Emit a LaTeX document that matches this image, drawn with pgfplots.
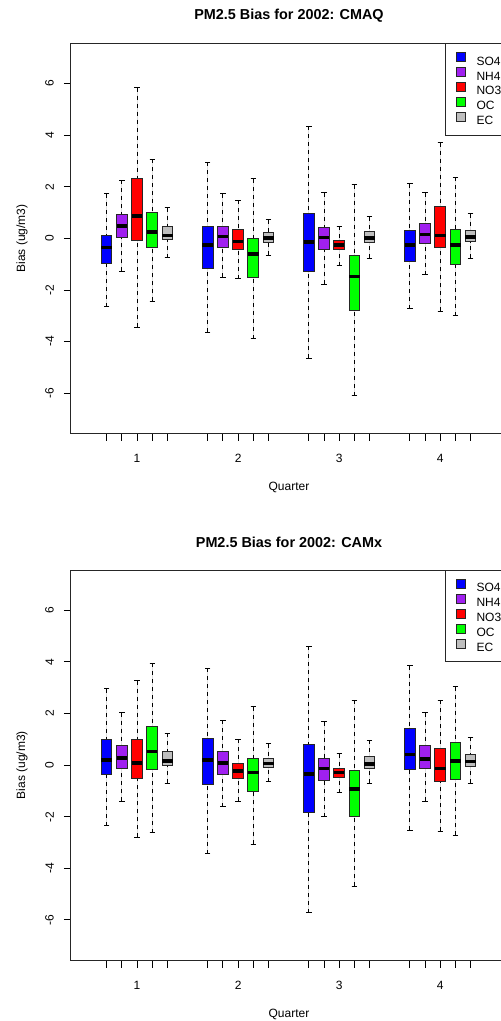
\documentclass[border=0pt]{standalone}
\usepackage{fontspec}
\setmainfont{Liberation Sans}
\usepackage{pgfplots}
\pgfplotsset{compat=1.18}
\usepgfplotslibrary{statistics}

\definecolor{rpurple}{HTML}{A020F0}
\definecolor{rgreen}{HTML}{00FF00}
\definecolor{rgray}{HTML}{BEBEBE}

% one box: colour, position, lower whisker, lower quartile, median, upper quartile, upper whisker
\newcommand{\bx}[7]{%
  \addplot[forget plot, fill=#1,
    boxplot/every box/.style={draw=black!85, line width=0.75pt, fill=#1},
    boxplot prepared={draw position=#2, lower whisker=#3, lower quartile=#4,
      median=#5, upper quartile=#6, upper whisker=#7}] coordinates {};}

\pgfplotsset{
  biasaxis/.style={
    scale only axis, width=327pt, height=292.8pt,
    anchor=north west,
    xmin=0.347, xmax=4.66, ymin=-7.57, ymax=7.56,
    xtick={0.7,0.85,1,1.15,1.3,1.7,1.85,2,2.15,2.3,2.7,2.85,3,3.15,3.3,3.7,3.85,4,4.15,4.3},
    xticklabels={,,1,,,,,2,,,,,3,,,,,4,,},
    ytick={-6,-4,...,6},
    xtick pos=left, ytick pos=left,
    tick align=outside, major tick length=5.4pt,
    tick style={black, line width=0.75pt},
    axis line style={black!85, line width=0.75pt},
    /pgf/number format/assume math mode=true,
    tick label style={font=\fontsize{9}{10}\selectfont},
    yticklabel style={rotate=90, anchor=south},
    yticklabel shift=4pt,
    xticklabel shift=6.5pt,
    label style={font=\fontsize{9}{10}\selectfont},
    xlabel={Quarter}, ylabel={Bias (ug/m3)},
    xlabel style={at={(axis description cs:0.5,-0.1383)}, anchor=center},
    ylabel style={at={(axis description cs:-0.1124,0.5)}, anchor=center},
    title style={at={(axis description cs:0.5,1.0515)}, anchor=center,
      font=\bfseries\fontsize{10.8}{13}\selectfont},
    legend cell align=left,
    legend image code/.code={\draw[##1] (0pt,-0.2pt) rectangle (6.75pt,6.55pt);},
    legend style={at={(axis description cs:0.8578,1)}, anchor=north west,
      draw=black!85, line width=0.75pt, inner xsep=7.5pt, inner ysep=6.3pt,
      row sep=0pt, font=\fontsize{9}{10}\selectfont,
      nodes={inner sep=0pt, text height=7pt, text depth=1.5pt},
      /tikz/every odd column/.append style={column sep=8.25pt}},
    boxplot/draw direction=y,
    boxplot/box extend=0.105,
    boxplot/whisker extend=0.0525,
    boxplot/every median/.style={draw=black, line width=2.6pt},
    boxplot/draw/lower whisker/.code={%
      \draw[black, line width=0.75pt, dash pattern=on 3pt off 3pt]
        (boxplot cs:\pgfplotsboxplotvalue{lower whisker}) --
        (boxplot cs:\pgfplotsboxplotvalue{lower quartile});
      \draw[black, line width=0.75pt]
        (boxplot whisker cs:\pgfplotsboxplotvalue{lower whisker},0) --
        (boxplot whisker cs:\pgfplotsboxplotvalue{lower whisker},1);},
    boxplot/draw/upper whisker/.code={%
      \draw[black, line width=0.75pt, dash pattern=on 3pt off 3pt]
        (boxplot cs:\pgfplotsboxplotvalue{upper whisker}) --
        (boxplot cs:\pgfplotsboxplotvalue{upper quartile});
      \draw[black, line width=0.75pt]
        (boxplot whisker cs:\pgfplotsboxplotvalue{upper whisker},0) --
        (boxplot whisker cs:\pgfplotsboxplotvalue{upper whisker},1);},
  }
}

\begin{document}
\begin{tikzpicture}

% ---------------- CMAQ ----------------
\begin{axis}[biasaxis, at={(53.25pt,-32.5pt)}, title={PM2.5 Bias for 2002: CMAQ}]
\bx{blue}{0.70}{-2.64}{-0.97}{-0.36}{0.12}{1.73}
\bx{rpurple}{0.85}{-1.28}{0.03}{0.48}{0.92}{2.25}
\bx{red}{1.00}{-3.44}{-0.09}{0.86}{2.31}{5.84}
\bx{rgreen}{1.15}{-2.44}{-0.36}{0.25}{1.00}{3.07}
\bx{rgray}{1.30}{-0.75}{-0.05}{0.12}{0.48}{1.19}
\bx{blue}{1.70}{-3.63}{-1.15}{-0.25}{0.48}{2.96}
\bx{rpurple}{1.85}{-1.51}{-0.34}{0.08}{0.48}{1.73}
\bx{red}{2.00}{-1.56}{-0.44}{-0.12}{0.35}{1.47}
\bx{rgreen}{2.15}{-3.89}{-1.52}{-0.61}{-0.01}{2.31}
\bx{rgray}{2.30}{-0.65}{-0.17}{0.01}{0.21}{0.72}
\bx{blue}{2.70}{-4.64}{-1.28}{-0.13}{0.96}{4.34}
\bx{rpurple}{2.85}{-1.77}{-0.44}{0.03}{0.44}{1.76}
\bx{red}{3.00}{-1.05}{-0.44}{-0.25}{-0.08}{0.48}
\bx{rgreen}{3.15}{-6.09}{-2.80}{-1.47}{-0.65}{2.08}
\bx{rgray}{3.30}{-0.76}{-0.17}{0.01}{0.25}{0.83}
\bx{blue}{3.70}{-2.73}{-0.89}{-0.25}{0.32}{2.11}
\bx{rpurple}{3.85}{-1.41}{-0.21}{0.16}{0.59}{1.76}
\bx{red}{4.00}{-2.83}{-0.36}{0.12}{1.24}{3.71}
\bx{rgreen}{4.15}{-3.00}{-1.01}{-0.25}{0.36}{2.38}
\bx{rgray}{4.30}{-0.76}{-0.12}{0.05}{0.32}{0.96}
\addlegendimage{fill=blue, draw=black!85, line width=0.75pt}
\addlegendentry{SO4}
\addlegendimage{fill=rpurple, draw=black!85, line width=0.75pt}
\addlegendentry{NH4}
\addlegendimage{fill=red, draw=black!85, line width=0.75pt}
\addlegendentry{NO3}
\addlegendimage{fill=rgreen, draw=black!85, line width=0.75pt}
\addlegendentry{OC}
\addlegendimage{fill=rgray, draw=black!85, line width=0.75pt}
\addlegendentry{EC}
\end{axis}

% ---------------- CAMx ----------------
\begin{axis}[biasaxis, at={(53.25pt,-427.5pt)}, title={PM2.5 Bias for 2002: CAMx}]
\bx{blue}{0.70}{-2.36}{-0.35}{0.19}{1.00}{2.95}
\bx{rpurple}{0.85}{-1.40}{-0.13}{0.28}{0.76}{2.03}
\bx{red}{1.00}{-2.80}{-0.53}{0.08}{1.00}{3.27}
\bx{rgreen}{1.15}{-2.62}{-0.17}{0.52}{1.49}{3.94}
\bx{rgray}{1.30}{-0.71}{0.00}{0.16}{0.52}{1.24}
\bx{blue}{1.70}{-3.44}{-0.76}{0.19}{1.03}{3.76}
\bx{rpurple}{1.85}{-1.61}{-0.36}{0.08}{0.52}{1.74}
\bx{red}{2.00}{-1.40}{-0.53}{-0.23}{0.08}{1.00}
\bx{rgreen}{2.15}{-3.07}{-1.03}{-0.28}{0.27}{2.26}
\bx{rgray}{2.30}{-0.65}{-0.09}{0.06}{0.27}{0.83}
\bx{blue}{2.70}{-5.72}{-1.85}{-0.35}{0.78}{4.61}
\bx{rpurple}{2.85}{-2.00}{-0.59}{-0.13}{0.26}{1.68}
\bx{red}{3.00}{-1.07}{-0.48}{-0.28}{-0.13}{0.44}
\bx{rgreen}{3.15}{-4.69}{-2.00}{-0.92}{-0.22}{2.51}
\bx{rgray}{3.30}{-0.71}{-0.13}{0.04}{0.32}{0.96}
\bx{blue}{3.70}{-2.52}{-0.17}{0.40}{1.43}{3.84}
\bx{rpurple}{3.85}{-1.40}{-0.13}{0.23}{0.76}{2.03}
\bx{red}{4.00}{-2.56}{-0.65}{-0.13}{0.63}{2.51}
\bx{rgreen}{4.15}{-2.71}{-0.57}{0.16}{0.88}{3.04}
\bx{rgray}{4.30}{-0.71}{-0.04}{0.13}{0.40}{1.07}
\addlegendimage{fill=blue, draw=black!85, line width=0.75pt}
\addlegendentry{SO4}
\addlegendimage{fill=rpurple, draw=black!85, line width=0.75pt}
\addlegendentry{NH4}
\addlegendimage{fill=red, draw=black!85, line width=0.75pt}
\addlegendentry{NO3}
\addlegendimage{fill=rgreen, draw=black!85, line width=0.75pt}
\addlegendentry{OC}
\addlegendimage{fill=rgray, draw=black!85, line width=0.75pt}
\addlegendentry{EC}
\end{axis}

\pgfresetboundingbox
\path[use as bounding box] (0,0) rectangle (375pt,-765.75pt);
\end{tikzpicture}
\end{document}
